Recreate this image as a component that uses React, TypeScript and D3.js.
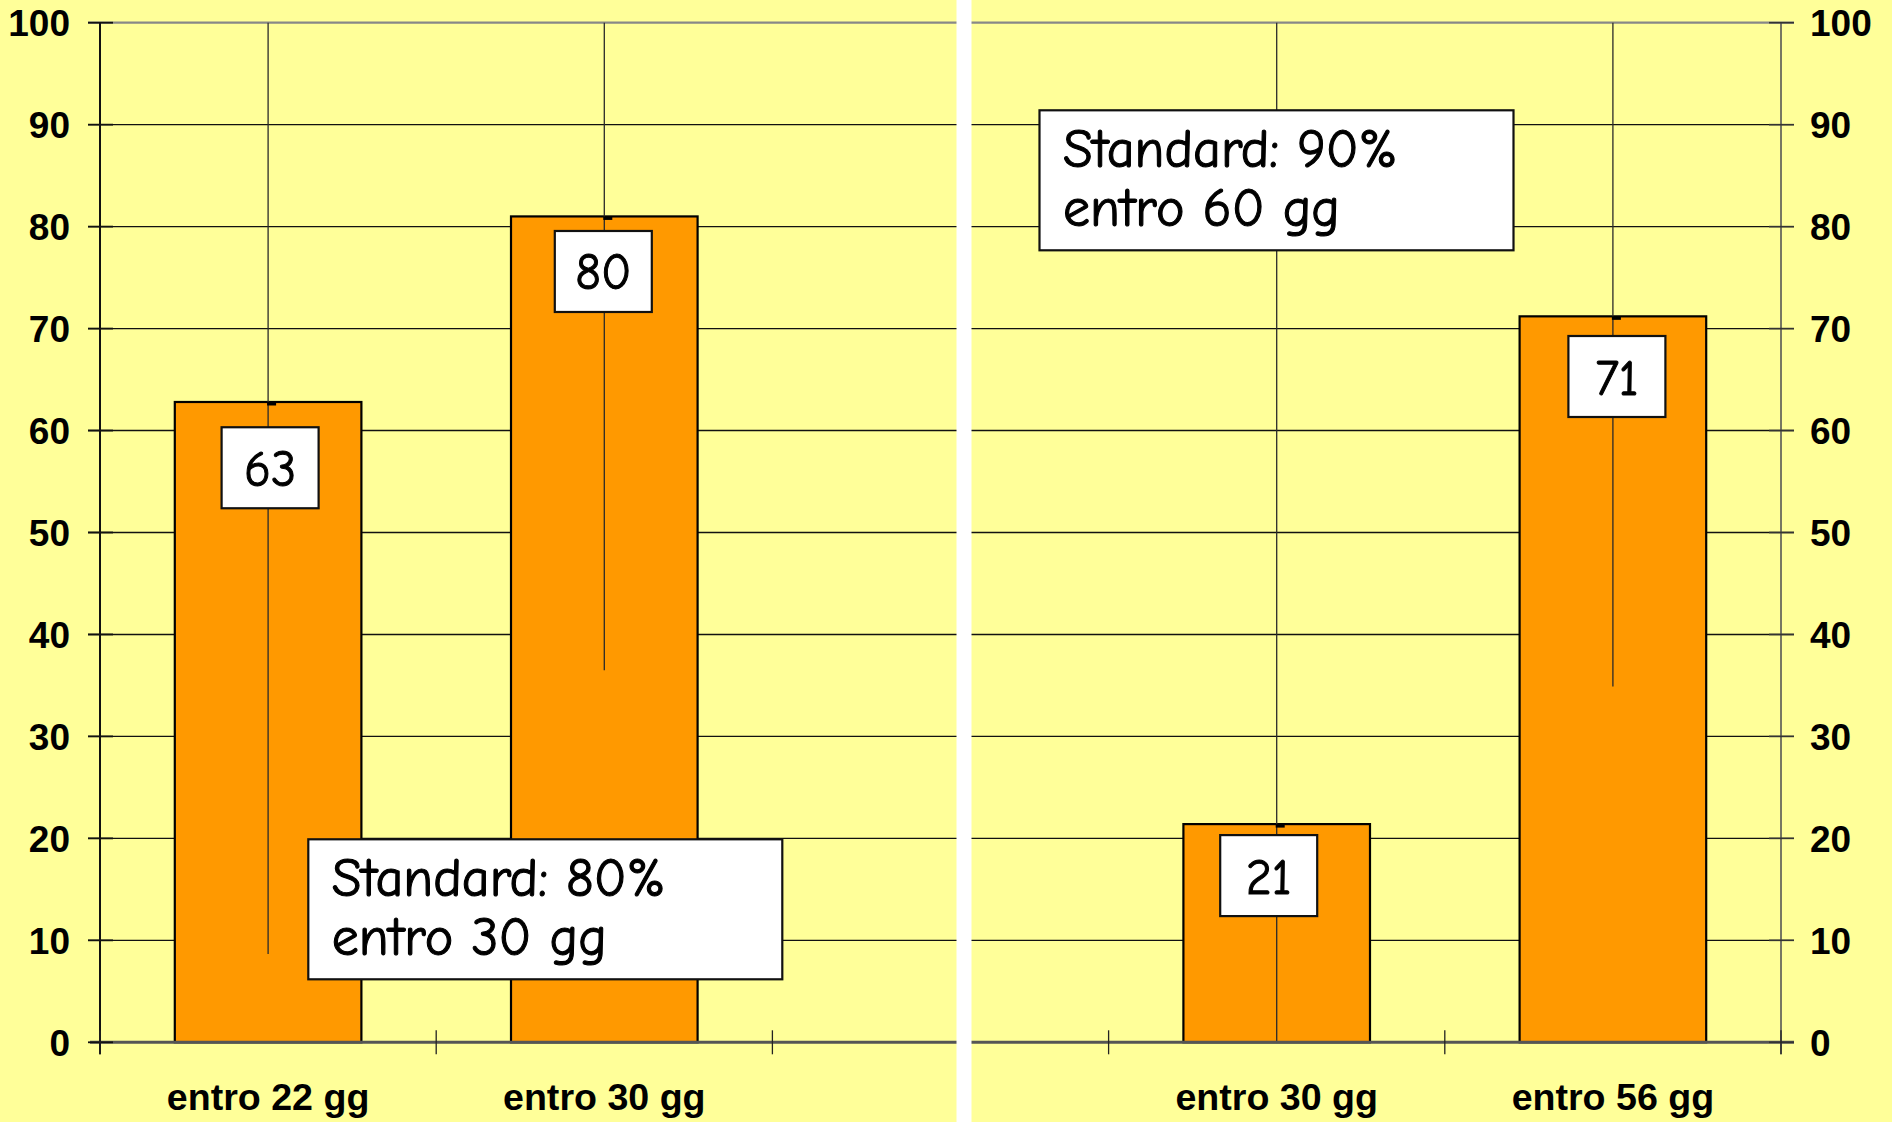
import React from "react";
import * as d3 from "d3";

// ---- data ----
const categoryKeys = ["c1", "c2", "c3", "c4", "c5"];
const categoryLabels = ["entro 22 gg", "entro 30 gg", "", "entro 30 gg", "entro 56 gg"];
const barKeys = ["c1", "c2", "c4", "c5"];
const barValues = [62.8, 81.0, 21.4, 71.2];
const barLabels = ["63", "80", "21", "71"];
const labelPos = [56.35, 75.6, 16.35, 65.3];
const labelShift = [2, -1, -8, 4];
const errLow = [8.65, 36.5, 0, 34.9];
const errHigh = [100, 100, 100, 100];
const yTicks = [0, 10, 20, 30, 40, 50, 60, 70, 80, 90, 100];
const notes1 = ["Standard: 80%", "entro 30 gg"];
const notes2 = ["Standard: 90%", "entro 60 gg"];

const W = 1892;
const H = 1122;
const LEFT = 100;
const RIGHT = 1781;
const TOP = 22.7;
const BOTTOM = 1042.3;

const YELLOW = "#FFFF99";
const ORANGE = "#FF9900";
const COMIC = "'Comic Sans MS', 'Comic Neue', 'Open Sans', sans-serif";
const ARIAL = "'Liberation Sans', Arial, sans-serif";

export default function App() {
  const x = d3.scaleBand<string>().domain(categoryKeys).range([LEFT, RIGHT]).padding(0);
  const y = d3.scaleLinear().domain([0, 100]).range([BOTTOM, TOP]);
  const bw = x.bandwidth();
  const barW = bw * 0.555;
  const cx = (k: string) => (x(k) as number) + bw / 2;
  const boundaries = d3.range(categoryKeys.length + 1).map((i) => LEFT + i * bw);

  const noteBox = (bx: number, by: number, lines: string[], key: string) => (
    <g key={key}>
      <rect x={bx} y={by} width={474} height={140} fill="#fff" stroke="#111" strokeWidth={2.2} />
      {lines.map((t, i) => (
        <text
          key={i}
          x={bx + 23.5}
          y={by + 57 + i * 59}
          fontFamily={COMIC}
          fontSize={54}
          fill="#000"
          stroke="#000"
          strokeWidth={1.1}
        >
          {t}
        </text>
      ))}
    </g>
  );

  return (
    <svg
      width={W}
      height={H}
      style={{ position: "absolute", left: 0, top: 0, display: "block" }}
      xmlns="http://www.w3.org/2000/svg"
    >
      <rect x={0} y={0} width={W} height={H} fill={YELLOW} />

      {/* horizontal gridlines */}
      {yTicks
        .filter((t) => t > 0 && t < 100)
        .map((t) => (
          <line key={"g" + t} x1={LEFT - 12} x2={RIGHT + 13} y1={y(t)} y2={y(t)} stroke="#111" strokeWidth={1.4} />
        ))}
      <line x1={LEFT - 12} x2={RIGHT + 13} y1={y(100)} y2={y(100)} stroke="#888" strokeWidth={2.2} />

      {/* bars */}
      {barKeys.map((k, i) => (
        <rect
          key={"b" + k}
          x={cx(k) - barW / 2}
          y={y(barValues[i])}
          width={barW}
          height={y(0) - y(barValues[i])}
          fill={ORANGE}
          stroke="#000"
          strokeWidth={2.2}
        />
      ))}

      {/* error bars */}
      {barKeys.map((k, i) => (
        <line
          key={"e" + k}
          x1={cx(k)}
          x2={cx(k)}
          y1={y(errLow[i])}
          y2={y(errHigh[i])}
          stroke="#2a2a2a"
          strokeWidth={1.3}
        />
      ))}
      {barKeys.map((k, i) => (
        <rect key={"m" + k} x={cx(k) - 1} y={y(barValues[i])} width={9} height={3.5} fill="#000" />
      ))}

      {/* value labels */}
      {barKeys.map((k, i) => (
        <g key={"l" + k}>
          <rect
            x={cx(k) + labelShift[i] - 48.5}
            y={y(labelPos[i]) - 40.5}
            width={97}
            height={81}
            fill="#fff"
            stroke="#111"
            strokeWidth={2.2}
          />
          <text
            x={cx(k) + labelShift[i]}
            y={y(labelPos[i])}
            dy="0.36em"
            textAnchor="middle"
            fontFamily={COMIC}
            fontSize={50}
            fill="#000"
            stroke="#000"
            strokeWidth={1}
          >
            {barLabels[i]}
          </text>
        </g>
      ))}

      {/* zero line */}
      <line x1={LEFT - 10} x2={RIGHT + 13} y1={y(0)} y2={y(0)} stroke="#555" strokeWidth={3} />

      {/* axes */}
      <line x1={LEFT} x2={LEFT} y1={y(100)} y2={y(0) + 12} stroke="#111" strokeWidth={2} />
      <line x1={RIGHT} x2={RIGHT} y1={y(100)} y2={y(0) + 12} stroke="#555" strokeWidth={1.6} />
      {yTicks.map((t) => (
        <g key={"t" + t}>
          <line x1={LEFT - 12} x2={LEFT + 13} y1={y(t)} y2={y(t)} stroke="#111" strokeWidth={1.8} />
          <line x1={RIGHT - 12} x2={RIGHT + 13} y1={y(t)} y2={y(t)} stroke="#333" strokeWidth={1.6} />
        </g>
      ))}
      {boundaries.map((bx, i) => (
        <line key={"ct" + i} x1={bx} x2={bx} y1={y(0) - 12} y2={y(0) + 12} stroke="#222" strokeWidth={1.3} />
      ))}

      {/* annotations */}
      {noteBox(308.3, 839.3, notes1, "n1")}
      {noteBox(1039.5, 110.3, notes2, "n2")}

      {/* white separator */}
      <rect x={956.5} y={0} width={15} height={H} fill="#fff" />

      {/* y tick labels */}
      {yTicks.map((t) => (
        <g key={"yl" + t}>
          <text
            x={70}
            y={y(t)}
            dy="0.36em"
            textAnchor="end"
            fontFamily={ARIAL}
            fontWeight="bold"
            fontSize={37}
            fill="#000"
          >
            {t}
          </text>
          <text
            x={1810}
            y={y(t)}
            dy="0.36em"
            textAnchor="start"
            fontFamily={ARIAL}
            fontWeight="bold"
            fontSize={37}
            fill="#000"
          >
            {t}
          </text>
        </g>
      ))}

      {/* category labels */}
      {categoryKeys.map((k, i) => (
        <text
          key={"cl" + k}
          x={cx(k)}
          y={1110}
          textAnchor="middle"
          fontFamily={ARIAL}
          fontWeight="bold"
          fontSize={37.6}
          fill="#000"
        >
          {categoryLabels[i]}
        </text>
      ))}
    </svg>
  );
}
